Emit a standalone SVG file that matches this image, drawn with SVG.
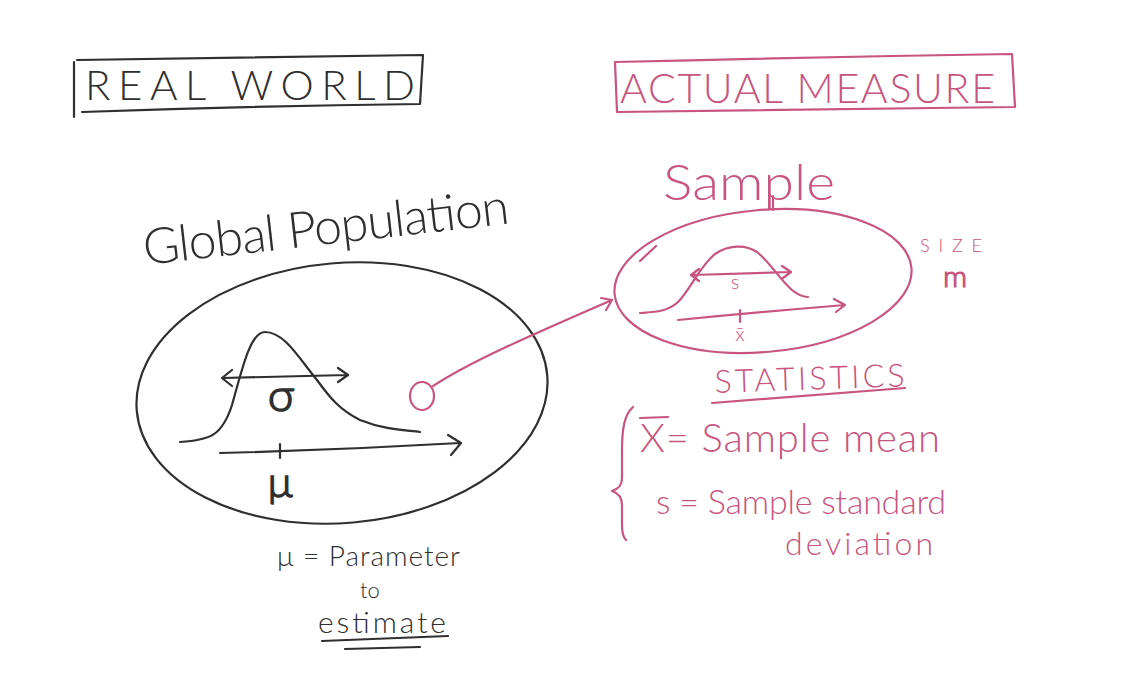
<svg xmlns="http://www.w3.org/2000/svg" width="1126" height="698" viewBox="0 0 1126 698">
<style>
.ink{fill:none;stroke:#2f2f2f;stroke-width:2.2;stroke-linecap:round;stroke-linejoin:round}
.pk{fill:none;stroke:#c85480;stroke-width:2.2;stroke-linecap:round;stroke-linejoin:round}
.tk{fill:#2f2f2f;font-family:Lato,"Open Sans","Liberation Sans",sans-serif;font-weight:300}
.tp{fill:#c85480;font-family:Lato,"Open Sans","Liberation Sans",sans-serif;font-weight:300}
</style>
<rect width="1126" height="698" fill="#ffffff"/>

<g id="real-world">
  <path class="ink" d="M74,62 L74,117 M77,60 Q250,57 423,55 L420,104 Q250,106 82,112"/>
  <text class="tk" x="85" y="100" font-size="42" textLength="330" lengthAdjust="spacing">REAL WORLD</text>
</g>

<g id="actual-measure">
  <path class="pk" d="M615,62 L617,112 Q815,110 1015,107 L1012,54 Q815,57 615,62"/>
  <text class="tp" x="620" y="103" font-size="41" textLength="375" lengthAdjust="spacing">ACTUAL MEASURE</text>
</g>

<g id="global-population">
  <text class="tk" font-size="50" transform="translate(145,265) rotate(-6.5)" textLength="368" lengthAdjust="spacing">Global Population</text>
  <ellipse class="ink" cx="342" cy="393" rx="206" ry="130" transform="rotate(-5 342 393)"/>
  <path class="ink" d="M180,442 C210,440 222,436 232,405 C242,370 250,332 265,332 C285,332 300,360 317,380 C330,398 340,410 360,420 C385,430 405,430 420,432"/>
  <path class="ink" d="M223,378 L347,375 M232,370 L222,378 L232,386 M338,368 L348,375 L338,382"/>
  <text class="tk" x="281" y="411" font-size="46" text-anchor="middle" font-weight="700" stroke="#2f2f2f" stroke-width="1.5">σ</text>
  <path class="ink" d="M220,453 Q340,450 460,443 M448,435 L461,443 L451,455"/>
  <path class="ink" d="M280,444 L280,458" stroke-width="3"/>
  <text class="tk" x="280" y="497" font-size="42" text-anchor="middle" font-weight="700" stroke="#2f2f2f" stroke-width="1.5">μ</text>
</g>

<g id="subset-marker">
  <ellipse class="pk" cx="422" cy="396" rx="12" ry="14"/>
</g>

<g id="sample">
  <text class="tp" x="663" y="200" font-size="50" textLength="172" lengthAdjust="spacingAndGlyphs">Sample</text>
  <ellipse class="pk" cx="763" cy="281" rx="149" ry="71" transform="rotate(-5 763 281)"/>
  <path class="pk" d="M773,196 L773,210 M640,261 L656,246"/>
  <path class="pk" d="M640,313 C655,312 667,312 678,302 C690,290 700,266 715,254 C728,245 745,244 757,252 C770,262 780,280 792,290 C798,295 803,297 808,297"/>
  <path class="pk" d="M692,275 L790,272 M699,269 L691,275 L699,281 M782,266 L791,272 L783,278"/>
  <text class="tp" x="735" y="289" font-size="20" text-anchor="middle">s</text>
  <path class="pk" d="M678,320 Q760,312 845,305 M834,299 L845,305 L836,312"/>
  <path class="pk" d="M740,310 L740,322"/>
  <text class="tp" x="740" y="341" font-size="20" text-anchor="middle">x̄</text>
  <text class="tp" x="920" y="252" font-size="18" textLength="62" lengthAdjust="spacing">SIZE</text>
  <text class="tp" x="955" y="287" font-size="30" text-anchor="middle" font-weight="700" stroke="#c85480" stroke-width="1.2">m</text>
</g>

<g id="statistics">
  <text class="tp" font-size="32" transform="translate(715,393) rotate(-2)" textLength="190" lengthAdjust="spacing">STATISTICS</text>
  <path class="pk" d="M712,403 L905,388"/>
  <path class="pk" d="M633,407 C624,415 622,430 622,450 L622,478 C622,486 618,489 612,491 C618,493 622,497 622,505 L622,525 C622,533 624,538 626,540"/>
  <path class="pk" d="M640,418 L668,417"/>
  <text class="tp" x="640" y="452" font-size="40" textLength="300" lengthAdjust="spacing">X= Sample mean</text>
  <text class="tp" x="656" y="514" font-size="34" textLength="290" lengthAdjust="spacing">s = Sample standard</text>
  <text class="tp" x="785" y="555" font-size="32" textLength="148" lengthAdjust="spacing">deviation</text>
</g>

<g id="parameter-note">
  <text class="tk" x="277" y="566" font-size="28" textLength="183" lengthAdjust="spacing">μ = Parameter</text>
  <text class="tk" x="370" y="598" font-size="22" text-anchor="middle">to</text>
  <text class="tk" x="318" y="633" font-size="30" textLength="128" lengthAdjust="spacing">estimate</text>
  <path class="ink" d="M322,641 L448,636 M345,649 L420,647"/>
</g>

<g id="connectors">
  <path class="pk" d="M433,386 C470,362 520,340 612,300 M601,298 L612,300 L606,310"/>
</g>
</svg>
